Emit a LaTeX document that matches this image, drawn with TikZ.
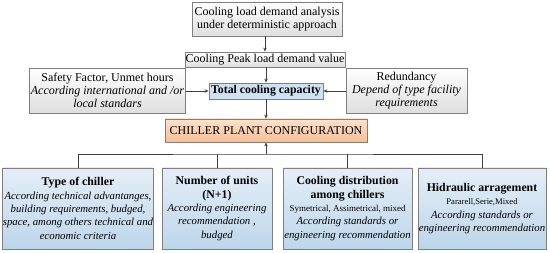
\documentclass[tikz,border=0pt]{standalone}
\usepackage{fontspec}
\setmainfont{Liberation Serif}
\usetikzlibrary{arrows.meta}
\definecolor{bord}{HTML}{7F7F7F}
\definecolor{lin}{HTML}{404040}
\definecolor{btop}{HTML}{E4EEF7}
\definecolor{bbot}{HTML}{BDD6EA}
\definecolor{tcap}{HTML}{CFE2F1}
\definecolor{otop}{HTML}{FCE2CD}
\definecolor{obot}{HTML}{F7BE96}
\newcommand{\hdtext}[1]{{\fontsize{11.8}{13.5}\selectfont\bfseries #1}}
\tikzset{
  box/.style={draw=bord, line width=0.8pt, inner sep=1pt, align=center, font=\fontsize{12}{13.3}\selectfont},
  graybox/.style={box, top color=white, bottom color=black!13},
  bluebox/.style={box, top color=btop, bottom color=bbot, inner sep=0pt, font=\fontsize{10.8}{13.3}\selectfont},
  conn/.style={draw=lin, line width=0.8pt},
  arr/.style={conn, -{Stealth[length=4pt,width=3.5pt]}},
}
\begin{document}
\begin{tikzpicture}[x=1pt,y=-1pt]
\useasboundingbox (0,0) rectangle (550,253);
\node[graybox, minimum width=150, minimum height=34] (top) at (267,19) {Cooling load demand analysis\\under deterministic approach};
\node[graybox, minimum width=160, minimum height=15, inner sep=0pt] (peak) at (265,59.5) {Cooling Peak load demand value};
\node[box, fill=tcap, minimum width=114, minimum height=16, inner sep=0pt, font=\fontsize{11.8}{13}\selectfont] (total) at (266,91) {\textbf{Total cooling capacity}};
\node[graybox, minimum width=149, minimum height=45] (safety) at (107.5,90.5) {Safety Factor, Unmet hours\\\textit{According international and /or}\\\textit{local standars}};
\node[graybox, minimum width=121, minimum height=45] (red) at (406.5,90.5) {Redundancy\\\textit{Depend of type facility}\\\textit{requirements}};
\node[box, top color=otop, bottom color=obot, minimum width=202, minimum height=23] (cpc) at (266,130.5) {CHILLER PLANT CONFIGURATION};
\node[bluebox, minimum width=150, minimum height=81] (type) at (78,208.5) {\hdtext{Type of chiller}\\\textit{According technical advantanges,}\\\textit{building requirements, budged,}\\\textit{space, among others technical and}\\\textit{economic criteria}};
\node[bluebox, minimum width=110, minimum height=81] (num) at (217,208.5) {\hdtext{Number of units}\\\hdtext{(N+1)}\\\textit{According engineering}\\\textit{recommendation ,}\\\textit{budged}};
\node[bluebox, minimum width=129, minimum height=81] (dist) at (347.5,208.5) {\hdtext{Cooling distribution}\\\hdtext{among chillers}\\{\fontsize{9}{12}\selectfont Symetrical, Assimetrical, mixed}\\\textit{According standards or}\\\textit{engineering recommendation}};
\node[bluebox, minimum width=128, minimum height=81] (hid) at (482,208.5) {\hdtext{Hidraulic arragement}\\{\fontsize{8.6}{10.5}\selectfont Pararell,Serie,Mixed}\\\textit{According standards or}\\\textit{engineering recommendation}};
\coordinate (bus) at (266,154);
\draw[arr] (top.south -| peak.north) -- (peak.north);
\draw[arr] (peak.south -| total.north) -- (total.north);
\draw[arr] (safety.east |- total.west) -- (total.west);
\draw[arr] (red.west |- total.east) -- (total.east);
\draw[arr] (total.south) -- (total.south |- cpc.north);
\draw[conn] (type.north) |- (bus) -| (hid.north);
\draw[conn] (num.north) -- (num.north |- bus);
\draw[conn] (dist.north) -- (dist.north |- bus);
\draw[arr] (bus) -- (cpc.south);
\end{tikzpicture}
\end{document}
